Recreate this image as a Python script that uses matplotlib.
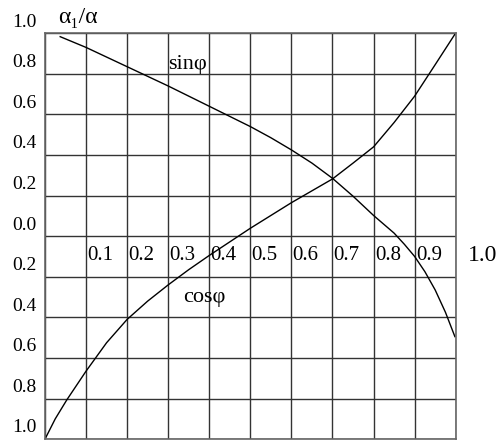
import matplotlib.pyplot as plt

plt.rcParams['font.family'] = ['Liberation Serif', 'DejaVu Serif']

# sin(phi) curve, read along the grid
sin_x = [0.037, 0.1, 0.2, 0.3, 0.37, 0.45, 0.5, 0.55, 0.6, 0.65, 0.7, 0.75, 0.8, 0.85, 0.875, 0.9, 0.925, 0.95, 0.975, 0.998]
sin_y = [0.983, 0.93, 0.835, 0.74, 0.67, 0.59, 0.54, 0.485, 0.425, 0.36, 0.285, 0.197, 0.102, 0.015, -0.04, -0.1, -0.175, -0.265, -0.375, -0.495]

# cos(phi) curve
cos_x = [0.0, 0.025, 0.053, 0.1, 0.15, 0.2, 0.25, 0.3, 0.35, 0.4, 0.5, 0.6, 0.7, 0.75, 0.8, 0.85, 0.9, 0.95, 0.998]
cos_y = [-1.0, -0.9, -0.807, -0.665, -0.525, -0.41, -0.32, -0.24, -0.165, -0.095, 0.039, 0.165, 0.282, 0.36, 0.44, 0.56, 0.69, 0.845, 0.995]

y_ticks = [1.0, 0.8, 0.6, 0.4, 0.2, 0.0, -0.2, -0.4, -0.6, -0.8, -1.0]
y_labels = ["1.0", "0.8", "0.6", "0.4", "0.2", "0.0", "0.2", "0.4", "0.6", "0.8", "1.0"]
x_ticks = [0.1, 0.2, 0.3, 0.4, 0.5, 0.6, 0.7, 0.8, 0.9]
x_labels = ["0.1", "0.2", "0.3", "0.4", "0.5", "0.6", "0.7", "0.8", "0.9"]

fig = plt.figure(figsize=(5.01, 4.40), dpi=100)
ax = fig.add_axes([0.0898, 0.002, 0.8198, 0.9225])
ax.set_xlim(0, 1)
ax.set_ylim(-1, 1)
ax.set_xticks([i / 10 for i in range(11)])
ax.set_yticks(y_ticks)
ax.tick_params(length=0, labelbottom=False, labelleft=False)
ax.grid(True, color='#333333', lw=1.0)
for s in ax.spines.values():
    s.set_color('#666666')
    s.set_linewidth(1.2)

ax.plot(sin_x, sin_y, color='black', lw=1.0)
ax.plot(cos_x, cos_y, color='black', lw=1.0)

# value labels sit just above each horizontal line
for y, lab in zip(y_ticks, y_labels):
    ax.text(-0.02, y + 0.055, lab, ha='right', va='center', fontsize=14, clip_on=False)

# x labels inside the row under the zero line
for x, lab in zip(x_ticks, x_labels):
    ax.text(x + 0.003, -0.093, lab, ha='left', va='center', fontsize=15)
ax.text(1.03, -0.093, "1.0", ha='left', va='center', fontsize=17, clip_on=False)

ax.text(0.032, 1.075, "α₁/α", ha='left', va='center', fontsize=17, clip_on=False)
ax.text(0.30, 0.845, "sinφ", ha='left', va='center', fontsize=16)
ax.text(0.336, -0.30, "cosφ", ha='left', va='center', fontsize=16)

fig.savefig("out.png", dpi=100)
